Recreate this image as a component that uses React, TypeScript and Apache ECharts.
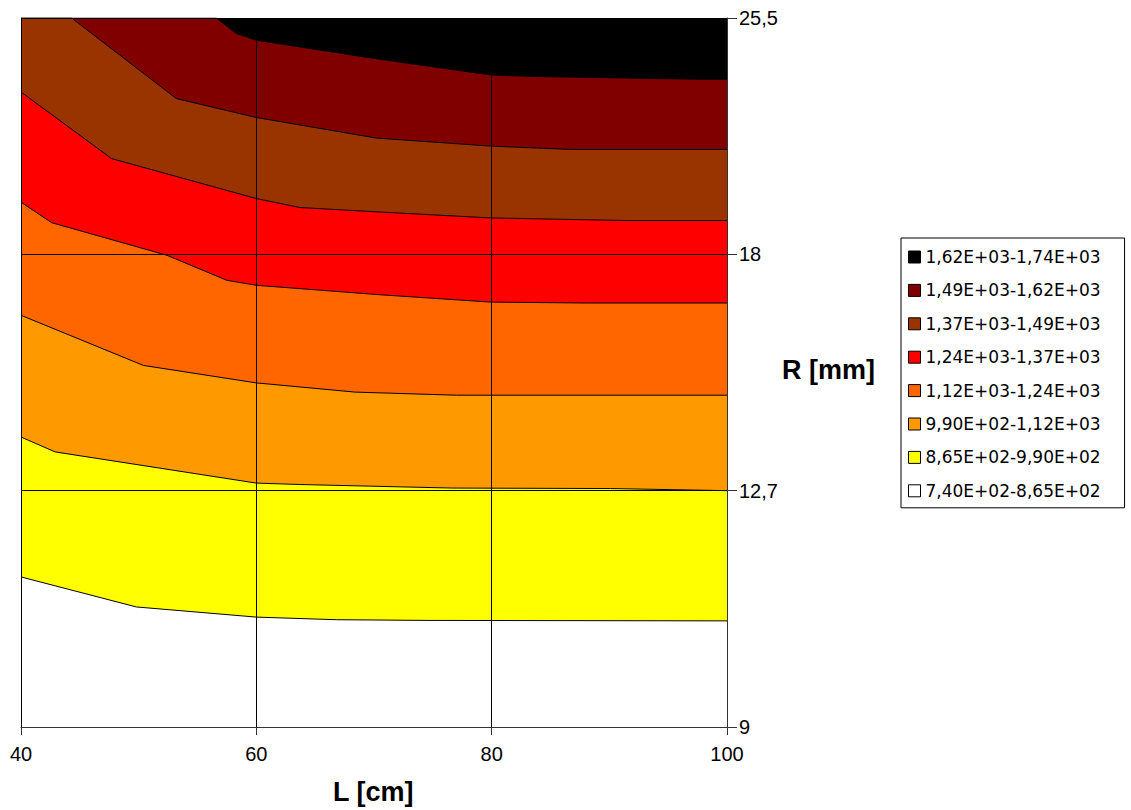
import React, { useEffect, useRef } from "react";
import * as echarts from "echarts";

// X axis: L [cm]
const L_TICKS = [40, 60, 80, 100];
// Y axis: R [mm] categories (evenly spaced, positions 0..3)
const R_TICKS = ["9", "12,7", "18", "25,5"];

const BAND_LABELS = [
  "1,62E+03-1,74E+03",
  "1,49E+03-1,62E+03",
  "1,37E+03-1,49E+03",
  "1,24E+03-1,37E+03",
  "1,12E+03-1,24E+03",
  "9,90E+02-1,12E+03",
  "8,65E+02-9,90E+02",
  "7,40E+02-8,65E+02",
];
const BAND_COLORS = [
  "#000000",
  "#800000",
  "#993300",
  "#FF0000",
  "#FF6600",
  "#FF9900",
  "#FFFF00",
  "#FFFFFF",
];

// Upper boundary of each band: [L, position on R axis (0=9, 1=12.7, 2=18, 3=25.5)]
const topEdge = [[40, 3], [100, 3]];
const b1 = [[40, 3], [56.6, 3], [58.3, 2.934], [60, 2.906], [70.5, 2.825], [79.9, 2.759], [83.9, 2.752], [91.2, 2.746], [97.5, 2.741], [100, 2.741]];
const b2 = [[40, 3], [44.3, 3], [53.2, 2.659], [60, 2.579], [70.2, 2.492], [79.9, 2.458], [86.7, 2.444], [100, 2.444]];
const b3 = [[40, 2.687], [47.7, 2.405], [60, 2.236], [63.7, 2.198], [70.5, 2.179], [79.9, 2.154], [91.5, 2.143], [100, 2.143]];
const b4 = [[40, 2.221], [42.6, 2.134], [52.4, 1.996], [57.5, 1.89], [60, 1.869], [70.5, 1.829], [79.9, 1.798], [88.0, 1.794], [100, 1.794]];
const b5 = [[40, 1.742], [50.4, 1.53], [60, 1.456], [68.4, 1.417], [77.0, 1.404], [100, 1.404]];
const b6 = [[40, 1.227], [42.9, 1.164], [60, 1.032], [63.7, 1.026], [76.7, 1.011], [90.1, 1.009], [100, 1.0]];
const b7 = [[40, 0.635], [49.8, 0.508], [60, 0.465], [66.8, 0.454], [74.5, 0.451], [100, 0.449]];

const BOUNDARIES = [topEdge, b1, b2, b3, b4, b5, b6, b7];

export default function App() {
  const ref = useRef<HTMLDivElement>(null);

  useEffect(() => {
    if (!ref.current) return;
    const chart = echarts.init(ref.current, null, { renderer: "svg" });

    const series: any[] = BAND_LABELS.map((name, i) => ({
      name,
      type: "line",
      data: BOUNDARIES[i],
      symbol: "none",
      showSymbol: false,
      silent: true,
      itemStyle: { color: BAND_COLORS[i] },
      lineStyle: { color: "#000", width: i === 0 ? 0 : 1 },
      areaStyle: { color: BAND_COLORS[i], opacity: 1, origin: "start" },
      z: 2,
    }));

    const labelFont = {
      fontFamily: "Liberation Sans, Arial, sans-serif",
      fontSize: 20,
      color: "#000",
    };

    chart.setOption({
      animation: false,
      backgroundColor: "#fff",
      grid: {
        left: 21,
        top: 18,
        width: 706,
        height: 709,
        show: false,
      },
      xAxis: {
        type: "value",
        min: L_TICKS[0],
        max: L_TICKS[L_TICKS.length - 1],
        interval: 20,
        z: 10,
        axisLine: { show: true, onZero: false, lineStyle: { color: "#333", width: 1 } },
        axisTick: { show: true, length: 8, lineStyle: { color: "#333" } },
        axisLabel: { ...labelFont, margin: 17, formatter: (v: number) => String(v) },
        splitLine: { show: true, lineStyle: { color: "#000", width: 1 } },
      },
      yAxis: {
        type: "value",
        position: "right",
        min: 0,
        max: 3,
        interval: 1,
        z: 10,
        axisLine: { show: true, onZero: false, lineStyle: { color: "#333", width: 1 } },
        axisTick: { show: true, length: 10, lineStyle: { color: "#333" } },
        axisLabel: {
          ...labelFont,
          margin: 12,
          formatter: (v: number) => R_TICKS[Math.round(v)] ?? "",
        },
        splitLine: { show: true, lineStyle: { color: "#000", width: 1 } },
      },
      legend: {
        orient: "vertical",
        left: 901,
        top: 238,
        padding: [9, 24, 7, 7],
        borderColor: "#000",
        borderWidth: 1,
        backgroundColor: "#fff",
        itemWidth: 12,
        itemHeight: 12,
        itemGap: 13.4,
        icon: "rect",
        selectedMode: false,
        textStyle: {
          fontFamily: "DejaVu Sans, sans-serif",
          fontSize: 17,
          lineHeight: 20,
          color: "#000",
        },
        data: BAND_LABELS.map((name, i) => ({
          name,
          icon: "rect",
          itemStyle: { color: BAND_COLORS[i], borderColor: "#000", borderWidth: 1 },
        })),
      },
      graphic: [
        {
          type: "text",
          left: 374 - 41,
          top: 793 - 15,
          style: {
            text: "L [cm]",
            font: "bold 27px Liberation Sans, Arial, sans-serif",
            fill: "#000",
          },
        },
        {
          type: "text",
          left: 829 - 47,
          top: 371 - 15,
          style: {
            text: "R [mm]",
            font: "bold 27px Liberation Sans, Arial, sans-serif",
            fill: "#000",
          },
        },
      ],
      series,
    });

    return () => {
      chart.dispose();
    };
  }, []);

  return (
    <div
      ref={ref}
      style={{ position: "absolute", left: 0, top: 0, width: 1131, height: 810 }}
    />
  );
}
